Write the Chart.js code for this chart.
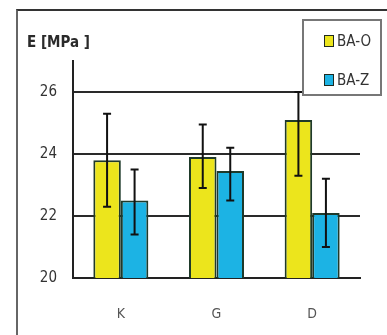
<!DOCTYPE html>
<html>
<head>
<meta charset="utf-8">
<script src="https://cdn.jsdelivr.net/npm/chart.js@4/dist/chart.umd.min.js"></script>
<style>
    html, body { margin: 0; padding: 0; background: #fff; }
    #wrap { position: relative; width: 387px; height: 335px; overflow: hidden; }
    #frame { position: absolute; left: 16px; top: 9px; width: 500px; height: 500px;
             border-left: 2px solid #666; border-top: 2px solid #333; }
    #title { position: absolute; left: 27px; top: 33px; font: bold 15px "Liberation Sans Narrow", "DejaVu Sans Condensed", sans-serif; color: #2a2a2a; }
    #legend { position: absolute; left: 302px; top: 19px; width: 80px; height: 77px; background: #fff;
              border: 2px solid #777; box-sizing: border-box; }
    .item { position: absolute; left: 20px; font: 15px "Liberation Sans Narrow", "DejaVu Sans Condensed", sans-serif; color: #333; }
    .item span { display: inline-block; width: 8px; height: 10px; border: 1.5px solid #1f2a20; margin-right: 3px; vertical-align: -1px; }
</style>
</head>
<body>
<div id="wrap">
    <div id="frame"></div>
    <canvas id="chart" width="387" height="335"></canvas>
    <div id="title">E [MPa ]</div>
    <div id="legend"></div>
</div>
<script>
// Dados do gráfico
const categories = ['K', 'G', 'D'];
const seriesNames = ['BA-O', 'BA-Z'];
const seriesColors = ['#ece51c', '#1cb3e4'];
const valuesO = [23.8, 23.9, 25.1];
const valuesZ = [22.5, 23.45, 22.1];
// limites das barras de erro (inferior / superior)
const errLowO = [22.3, 22.9, 23.3];
const errHighO = [25.3, 24.95, 26.0];
const errLowZ = [21.4, 22.5, 21.0];
const errHighZ = [23.5, 24.2, 23.2];
const yTicks = [20, 22, 24, 26];

const font = '"Liberation Sans Narrow", "DejaVu Sans Condensed", sans-serif';

// Legenda em HTML
const legend = document.getElementById('legend');
seriesNames.forEach((name, i) => {
    const item = document.createElement('div');
    item.className = 'item';
    item.style.top = (i === 0 ? 11 : 50) + 'px';
    item.innerHTML = `<span style="background:${seriesColors[i]}"></span>${name}`;
    legend.appendChild(item);
});

// Plugin para desenhar as barras de erro
const errorBars = {
    id: 'errorBars',
    afterDatasetsDraw(chart) {
        const ctx = chart.ctx;
        const y = chart.scales.y;
        const limits = [[errLowO, errHighO], [errLowZ, errHighZ]];
        ctx.save();
        ctx.strokeStyle = '#111';
        ctx.lineWidth = 2;
        chart.data.datasets.forEach((ds, d) => {
            chart.getDatasetMeta(d).data.forEach((bar, i) => {
                const top = y.getPixelForValue(limits[d][1][i]);
                const bottom = y.getPixelForValue(limits[d][0][i]);
                ctx.beginPath();
                ctx.moveTo(bar.x, top);
                ctx.lineTo(bar.x, bottom);
                ctx.moveTo(bar.x - 4, top);
                ctx.lineTo(bar.x + 4, top);
                ctx.moveTo(bar.x - 4, bottom);
                ctx.lineTo(bar.x + 4, bottom);
                ctx.stroke();
            });
        });
        ctx.restore();
    }
};

new Chart(document.getElementById('chart'), {
    type: 'bar',
    data: {
        labels: categories,
        datasets: [
            { label: seriesNames[0], data: valuesO, backgroundColor: seriesColors[0], borderColor: '#1f3a2a', borderWidth: 2 },
            { label: seriesNames[1], data: valuesZ, backgroundColor: seriesColors[1], borderColor: '#1f3a2a', borderWidth: 2 }
        ]
    },
    options: {
        responsive: false,
        animation: false,
        categoryPercentage: 0.575,
        barPercentage: 1,
        layout: { padding: { left: 0, right: 27, top: 61, bottom: 0 } },
        plugins: { legend: { display: false }, tooltip: { enabled: false } },
        scales: {
            x: {
                grid: { display: false },
                border: { display: true, color: '#222', width: 2 },
                ticks: { color: '#555', padding: 20, font: { family: font, size: 14 } },
                afterFit: s => { s.height = 57; }
            },
            y: {
                min: 20,
                max: 27,
                afterBuildTicks: axis => { axis.ticks = yTicks.map(v => ({ value: v })); },
                afterFit: s => { s.width = 73; },
                grid: { color: '#2a2a2a', lineWidth: 2, drawTicks: false },
                border: { display: true, color: '#222', width: 2 },
                ticks: { color: '#333', padding: 16, font: { family: font, size: 15 } }
            }
        }
    },
    plugins: [errorBars]
});
</script>
</body>
</html>
